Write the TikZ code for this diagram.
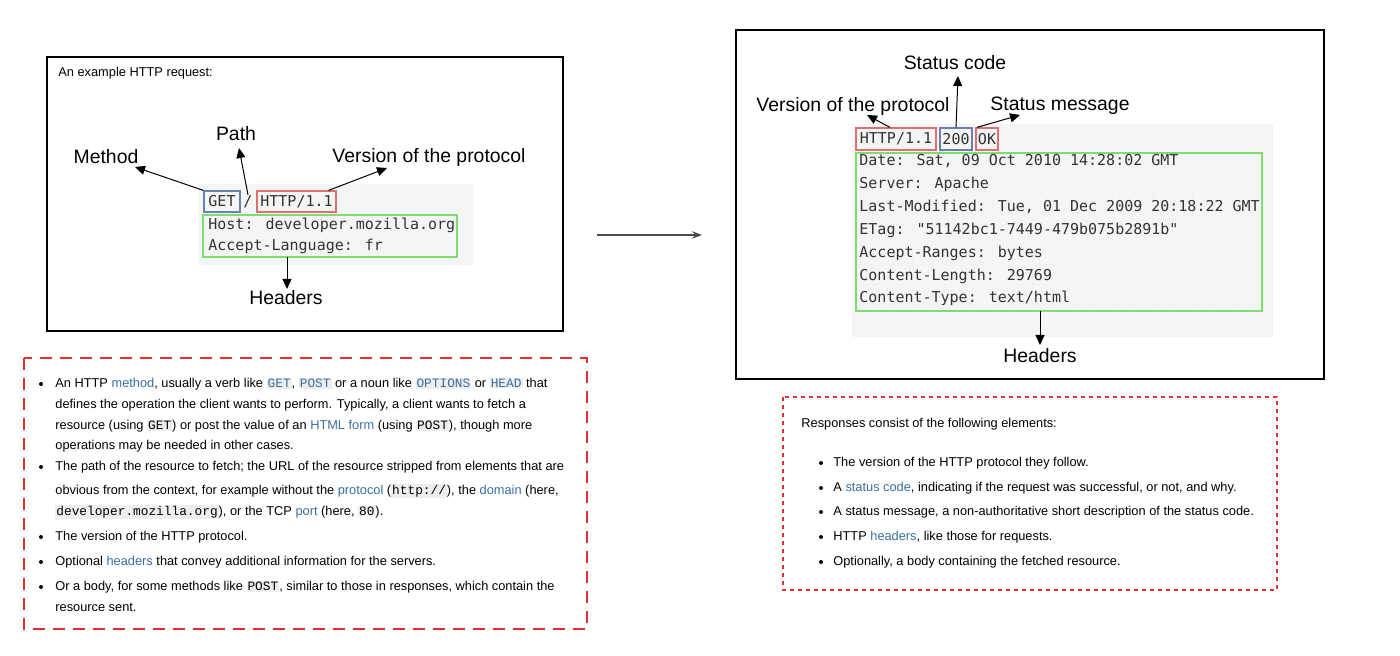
\documentclass[tikz,border=0pt]{standalone}
\usepackage{fontspec}
\setmainfont{Liberation Sans}
\newfontfamily\panelmono{DejaVu Sans Mono}
\newfontfamily\inlinemono{Liberation Mono}
\usetikzlibrary{arrows.meta}
\definecolor{linkblue}{HTML}{3A6E9E}
\definecolor{codebg}{HTML}{EEEEEE}
\definecolor{panelbg}{HTML}{F4F5F6}
\definecolor{boxred}{HTML}{E07070}
\definecolor{boxblue}{HTML}{6A80B0}
\definecolor{boxgreen}{HTML}{7FDD6E}
\definecolor{dashred}{HTML}{E03030}
\newcommand{\lnk}[1]{\textcolor{linkblue}{#1}}
\newcommand{\cd}[1]{{\setlength{\fboxsep}{0.5pt}\colorbox{codebg}{\inlinemono #1}}}
\newcommand{\lcd}[1]{{\setlength{\fboxsep}{0.5pt}\colorbox{codebg}{\inlinemono\color{linkblue}#1}}}
\tikzset{
  label/.style={font=\fontsize{9.7}{12}\selectfont,inner sep=0pt},
  codeline/.style={font=\panelmono\fontsize{7.5}{9}\selectfont,text=black!80,anchor=west,inner sep=0pt},
  bodyline/.style={font=\fontsize{6.4}{8}\selectfont,anchor=west,inner sep=0pt},
  bullet/.style={circle,fill=black,inner sep=0pt,minimum size=2pt},
  pointer/.style={-{Triangle[length=5pt,width=4.5pt]},line width=0.5pt},
  hlbox/.style={minimum height=10.5pt,inner sep=0pt,line width=0.6pt,font=\panelmono\fontsize{7.5}{9}\selectfont,text=black!80},
}
\begin{document}
\begin{tikzpicture}[x=0.5pt,y=-0.5pt]
\useasboundingbox (0,0) rectangle (1400,656);
% request picture
\draw[line width=1pt](47,57) rectangle (563,331);
\node[bodyline] (reqtitle) at (58,73) {An example HTTP request:};
\fill[panelbg](198,184) rectangle (473,265);
\foreach \gx in {218,238,...,458} \draw[black!5](\gx,184)--(\gx,265);
\foreach \gy in {204,224,244} \draw[black!5](198,\gy)--(473,\gy);
\node[hlbox,draw=boxblue,minimum width=18pt] (get) at (222,201.5) {GET};
\node[font=\panelmono\fontsize{7.5}{9}\selectfont,text=black!80,inner sep=0pt] (slash) at (248,201.5) {/};
\node[hlbox,draw=boxred,minimum width=39.5pt] (reqver) at (296.5,201.5) {HTTP/1.1};
\draw[boxgreen,line width=0.6pt] (203,215) rectangle (457,257);
\coordinate (reqhdr) at (287,257);
\node[codeline] (host) at (208,225) {Host: developer.mozilla.org};
\node[codeline] (lang) at (208,246) {Accept-Language: fr};
\node[label] (method) at (106,157) {Method};
\node[label] (path) at (236,134) {Path};
\node[label] (version) at (429,157) {Version of the protocol};
\node[label] (headers) at (286,298) {Headers};
\draw[pointer](get.north west)--(135,167);
\draw[pointer](slash.north)--(239,148);
\draw[pointer]([xshift=-4pt]reqver.north east)--(387,168);
\draw[pointer](reqhdr)--(287,289);
% request list
\draw[dashred,line width=0.9pt,dash pattern=on 6pt off 4pt](24,358) rectangle (587,629);
\foreach \by in {384,467,537,562,587} \node[bullet] at (41,\by) {};
\node[bodyline] (r1a) at (55,384) {An HTTP \lnk{method}, usually a verb like \lcd{GET}, \lcd{POST} or a noun like \lcd{OPTIONS} or \lcd{HEAD} that};
\node[bodyline] (r1b) at (55,405) {defines the operation the client wants to perform. Typically, a client wants to fetch a};
\node[bodyline] (r1c) at (55,426) {resource (using \cd{GET}) or post the value of an \lnk{HTML form} (using \cd{POST}), though more};
\node[bodyline] (r1d) at (55,446) {operations may be needed in other cases.};
\node[bodyline] (r2a) at (55,467) {The path of the resource to fetch; the URL of the resource stripped from elements that are};
\node[bodyline] (r2b) at (55,491) {obvious from the context, for example without the \lnk{protocol} (\cd{http://}), the \lnk{domain} (here,};
\node[bodyline] (r2c) at (55,512) {\cd{developer.mozilla.org}), or the TCP \lnk{port} (here, \cd{80}).};
\node[bodyline] (r3) at (55,537) {The version of the HTTP protocol.};
\node[bodyline] (r4) at (55,562) {Optional \lnk{headers} that convey additional information for the servers.};
\node[bodyline] (r5a) at (55,587) {Or a body, for some methods like \cd{POST}, similar to those in responses, which contain the};
\node[bodyline] (r5b) at (55,607) {resource sent.};
% middle arrow
\coordinate (gapl) at (597,235);
\coordinate (gapr) at (702,235);
\draw[-{Stealth[length=5pt]},black!70,line width=0.6pt](gapl)--(gapr);
% response picture
\draw[line width=1pt](736,30) rectangle (1324,379);
\fill[panelbg](852,124) rectangle (1273,337);
\foreach \gx in {872,892,...,1272} \draw[black!5](\gx,124)--(\gx,337);
\foreach \gy in {144,164,...,324} \draw[black!5](852,\gy)--(1273,\gy);
\node[hlbox,draw=boxred,minimum width=40pt,minimum height=11pt] (resver) at (896,139) {HTTP/1.1};
\node[hlbox,draw=boxblue,minimum width=16pt,minimum height=11pt] (code) at (956,139) {200};
\node[hlbox,draw=boxred,minimum width=11pt,minimum height=11pt] (msg) at (987,139) {OK};
\draw[boxgreen,line width=0.6pt] (856,153) rectangle (1262,311);
\coordinate (reshdr) at (1040,311);
\node[codeline] (h1) at (859,161) {Date: Sat, 09 Oct 2010 14:28:02 GMT};
\node[codeline] (h2) at (859,184) {Server: Apache};
\node[codeline] (h3) at (859,207) {Last-Modified: Tue, 01 Dec 2009 20:18:22 GMT};
\node[codeline] (h4) at (859,230) {ETag: "51142bc1-7449-479b075b2891b"};
\node[codeline] (h5) at (859,253) {Accept-Ranges: bytes};
\node[codeline] (h6) at (859,276) {Content-Length: 29769};
\node[codeline] (h7) at (859,298) {Content-Type: text/html};
\node[label] (statuscode) at (955,63) {Status code};
\node[label] (resversion) at (853,106) {Version of the protocol};
\node[label] (statusmsg) at (1060,106) {Status message};
\node[label] (resheaders) at (1040,356) {Headers};
\draw[pointer]([xshift=-3pt]resver.north)--(867,115);
\draw[pointer](code.north)--(958,76);
\draw[pointer]([xshift=-5pt]msg.north)--(1020,115);
\draw[pointer](reshdr)--(1040,345);
% response list
\draw[dashred,line width=0.9pt,dash pattern=on 2pt off 2pt](783,397) rectangle (1277,590);
\node[bodyline] (restitle) at (801,424) {Responses consist of the following elements:};
\foreach \by in {463,488,512,537,562} \node[bullet] at (821,\by) {};
\node[bodyline] (s1) at (833,463) {The version of the HTTP protocol they follow.};
\node[bodyline] (s2) at (833,488) {A \lnk{status code}, indicating if the request was successful, or not, and why.};
\node[bodyline] (s3) at (833,512) {A status message, a non-authoritative short description of the status code.};
\node[bodyline] (s4) at (833,537) {HTTP \lnk{headers}, like those for requests.};
\node[bodyline] (s5) at (833,562) {Optionally, a body containing the fetched resource.};
\end{tikzpicture}
\end{document}
